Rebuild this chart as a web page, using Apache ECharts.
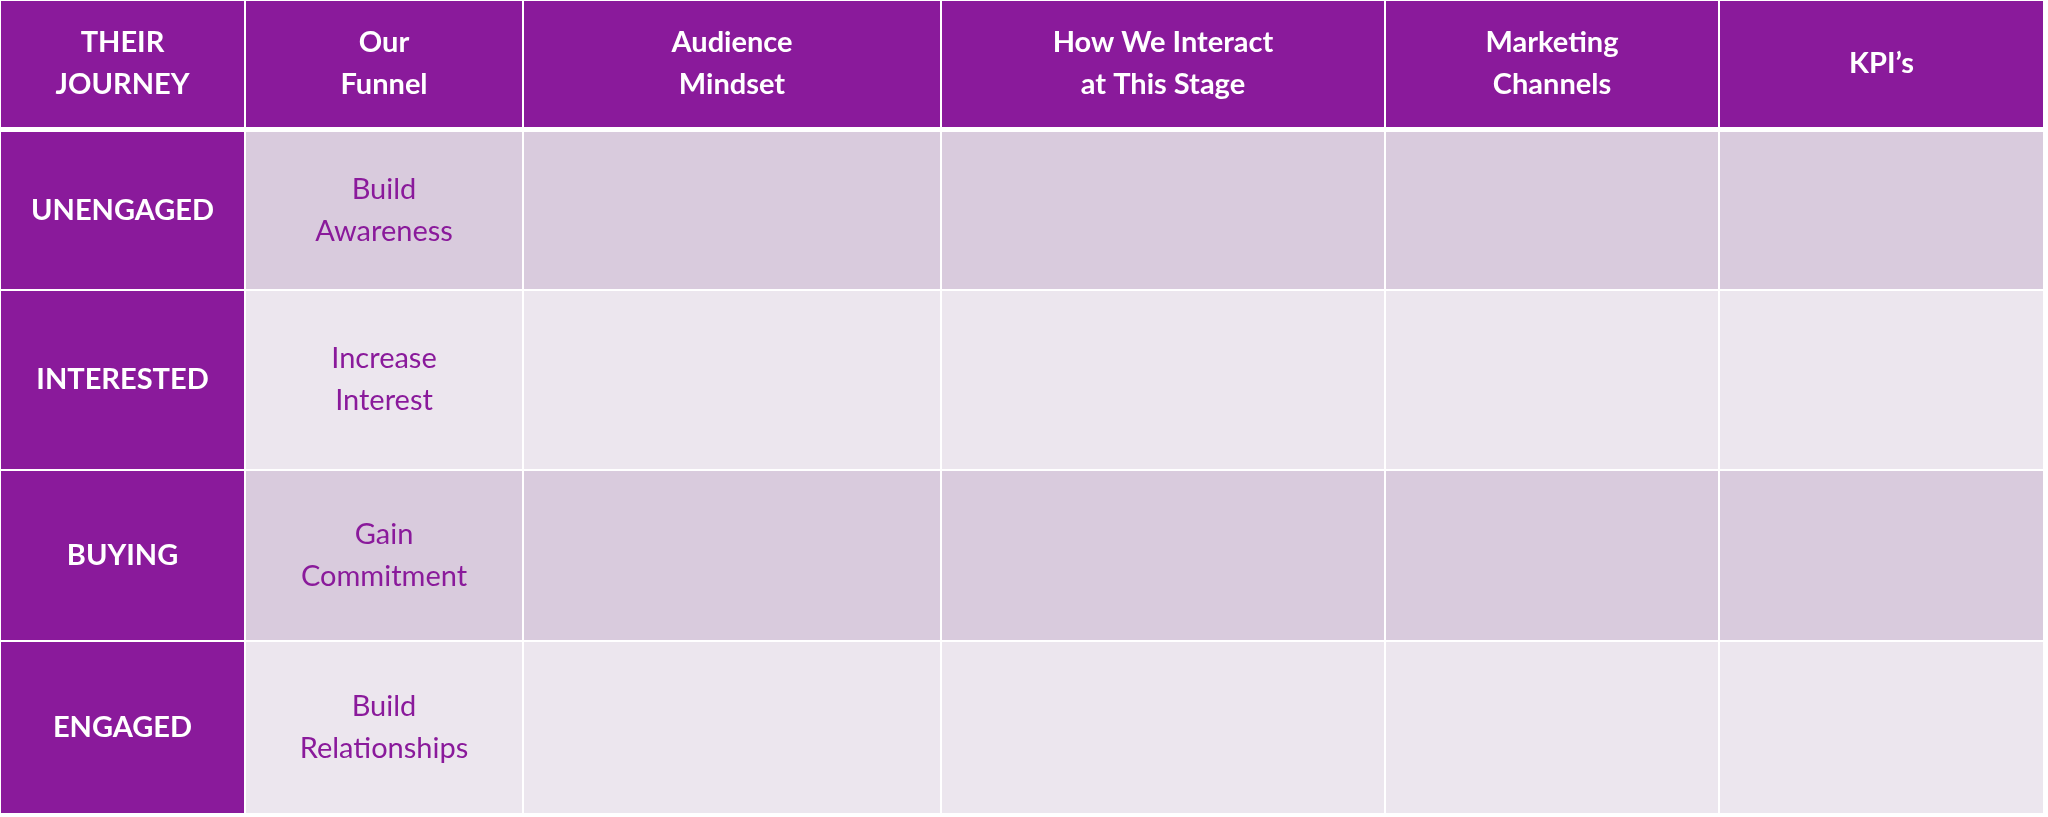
<!DOCTYPE html>
<html><head><meta charset="utf-8">
<script src="https://cdn.jsdelivr.net/npm/echarts@6/dist/echarts.min.js"></script>
<style>html,body{margin:0;padding:0;background:#fff}#c{width:2048px;height:817px}</style>
</head><body><div id="c"></div>
<script>
const headers = ["THEIR\nJOURNEY", "Our\nFunnel", "Audience\nMindset", "How We Interact\nat This Stage", "Marketing\nChannels", "KPI’s"];
const journey = ["UNENGAGED", "INTERESTED", "BUYING", "ENGAGED"];
const funnel = ["Build\nAwareness", "Increase\nInterest", "Gain\nCommitment", "Build\nRelationships"];

const colEdges = [0, 245, 523, 941, 1385, 1719, 2044];
const rowEdges = [0, 128, 131, 290, 470, 641, 814];
const PURPLE = '#8a1a9b', DARK = '#d9cbdd', LIGHT = '#ece6ee';

const cells = [];
headers.forEach((h, c) => cells.push([c, -1, h]));
journey.forEach((j, r) => {
  for (let c = 0; c < headers.length; c++) {
    cells.push([c, r, c === 0 ? j : c === 1 ? funnel[r] : '']);
  }
});

function rowSpan(r) {
  if (r === -1) return [rowEdges[0], rowEdges[1]];
  return [rowEdges[r + 2], rowEdges[r + 3]];
}

const chart = echarts.init(document.getElementById('c'));
chart.setOption({
  animation: false,
  grid: {left: 0, right: 0, top: 0, bottom: 0},
  xAxis: {type: 'value', min: 0, max: 2048, show: false},
  yAxis: {type: 'value', min: 0, max: 817, inverse: true, show: false},
  series: [{
    type: 'custom',
    data: cells,
    renderItem: function (params, api) {
      const c = api.value(0), r = api.value(1);
      const txt = cells[params.dataIndex][2];
      const [y0, y1] = rowSpan(r);
      const p0 = api.coord([colEdges[c], y0]);
      const p1 = api.coord([colEdges[c + 1], y1]);
      let fill, color, weight;
      if (r === -1 || c === 0) { fill = PURPLE; color = '#fff'; weight = 'bold'; }
      else { fill = r % 2 === 0 ? DARK : LIGHT; color = PURPLE; weight = 'normal'; }
      return {
        type: 'group',
        children: [{
          type: 'rect',
          shape: {x: p0[0], y: p0[1], width: p1[0] - p0[0], height: p1[1] - p0[1]},
          style: {fill: fill, stroke: '#ffffff', lineWidth: 2}
        }, {
          type: 'text',
          style: {
            text: txt, x: (p0[0] + p1[0]) / 2, y: (p0[1] + p1[1]) / 2,
            align: 'center', verticalAlign: 'middle',
            fill: color, fontWeight: weight, fontSize: 29, lineHeight: 42,
            fontFamily: 'Lato, "Open Sans", sans-serif'
          }
        }]
      };
    }
  }]
});
</script></body></html>
